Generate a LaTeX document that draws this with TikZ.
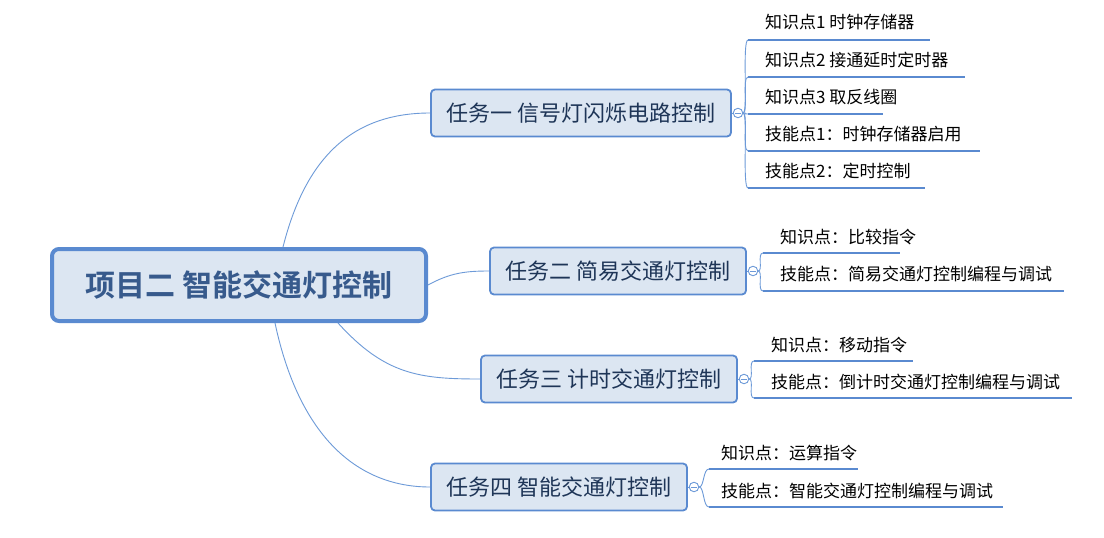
\documentclass[tikz,border=0pt]{standalone}
\usepackage{fontspec}
\setmainfont{Noto Sans CJK SC}
\newfontfamily\cjkbold{Noto Sans CJK SC Bold}
\definecolor{bordc}{HTML}{5A8AD0}
\definecolor{fillc}{HTML}{DCE6F2}
\definecolor{roottxt}{HTML}{375A8C}
\definecolor{tasktxt}{HTML}{1E3557}
\definecolor{linec}{HTML}{6D9AD8}
\begin{document}
\begin{tikzpicture}[x=1pt,y=-1pt,
  rootbox/.style={draw=bordc,line width=4pt,fill=fillc,rounded corners=7pt,minimum width=374pt,minimum height=72pt,inner sep=0pt,font=\cjkbold\fontsize{30}{34}\selectfont,text=roottxt},
  taskbox/.style={draw=bordc,line width=1.8pt,fill=fillc,rounded corners=4pt,minimum height=47pt,inner sep=0pt,font=\fontsize{22}{26}\selectfont,text=tasktxt},
  leaf/.style={anchor=west,inner sep=0pt,font=\fontsize{17}{20}\selectfont,text=black},
  uline/.style={draw=bordc,line width=2.8pt},
  conn/.style={draw=linec,line width=0.9pt},
  circ/.style={circle,draw=linec,line width=0.9pt,fill=white,minimum size=9.5pt,inner sep=0pt}
]
\useasboundingbox (0,0) rectangle (1104,538);
\fill[white] (0,0) rectangle (1104,538);

% root
\node[rootbox] (root) at (239,285) {项目二 智能交通灯控制};
\coordinate (rtop) at (283,247);
\coordinate (rbot3) at (338,323);
\coordinate (rbot4) at (275,323);

% tasks
\node[taskbox,minimum width=300pt] (t1) at (581,113) {任务一 信号灯闪烁电路控制};
\node[taskbox,minimum width=256pt] (t2) at (618,271) {任务二 简易交通灯控制};
\node[taskbox,minimum width=256pt] (t3) at (609,379) {任务三 计时交通灯控制};
\node[taskbox,minimum width=256pt] (t4) at (559,487) {任务四 智能交通灯控制};

% root connectors
\draw[conn] (rtop) .. controls (305,160) and (350,113) .. (t1.west);
\draw[conn] (root.east) .. controls (450,273) and (465,271) .. (t2.west);
\draw[conn] (rbot3) .. controls (385,375) and (420,379) .. (t3.west);
\draw[conn] (rbot4) .. controls (300,440) and (360,487) .. (t4.west);

% circles
\node[circ] (c1) at (738,113) {};
\node[circ] (c2) at (753,271) {};
\node[circ] (c3) at (744,379) {};
\node[circ] (c4) at (694,487) {};
\foreach \c/\t in {c1/t1,c2/t2,c3/t3,c4/t4}{
  \draw[conn] (\t.east) -- (\c.west);
  \draw[draw=linec,line width=0.9pt] ([xshift=2pt]\c.west) -- ([xshift=-2pt]\c.east);
}

% task 1 leaves
\coordinate (a1s) at (748,40);  \coordinate (a1e) at (930,40);
\coordinate (a2s) at (748,77);  \coordinate (a2e) at (965,77);
\coordinate (a3s) at (748,114); \coordinate (a3e) at (883,114);
\coordinate (a4s) at (748,151); \coordinate (a4e) at (980,151);
\coordinate (a5s) at (748,188); \coordinate (a5e) at (925,188);
\node[leaf] (l11) at (765,22) {知识点1 时钟存储器};
\node[leaf] (l12) at (765,60) {知识点2 接通延时定时器};
\node[leaf] (l13) at (765,97) {知识点3 取反线圈};
\node[leaf] (l14) at (765,134) {技能点1：时钟存储器启用};
\node[leaf] (l15) at (765,171) {技能点2：定时控制};
\foreach \s/\e in {a1s/a1e,a2s/a2e,a3s/a3e,a4s/a4e,a5s/a5e}{
  \draw[uline] (\s) -- (\e);
  \draw[conn] (c1.east) .. controls +(5,0) and +(-6,0) .. (\s);
}

% task 2 leaves
\coordinate (b1s) at (763,253); \coordinate (b1e) at (900,253);
\coordinate (b2s) at (763,291); \coordinate (b2e) at (1064,291);
\node[leaf] (l21) at (780,237) {知识点：比较指令};
\node[leaf] (l22) at (780,274) {技能点：简易交通灯控制编程与调试};

% task 3 leaves
\coordinate (d1s) at (754,361); \coordinate (d1e) at (913,361);
\coordinate (d2s) at (754,398); \coordinate (d2e) at (1072,398);
\node[leaf] (l31) at (771,345) {知识点：移动指令};
\node[leaf] (l32) at (771,382) {技能点：倒计时交通灯控制编程与调试};

% task 4 leaves
\coordinate (e1s) at (709,469); \coordinate (e1e) at (858,469);
\coordinate (e2s) at (709,507); \coordinate (e2e) at (1003,507);
\node[leaf] (l41) at (721,453) {知识点：运算指令};
\node[leaf] (l42) at (721,491) {技能点：智能交通灯控制编程与调试};

\foreach \c/\s/\e in {c2/b1s/b1e,c2/b2s/b2e,c3/d1s/d1e,c3/d2s/d2e,c4/e1s/e1e,c4/e2s/e2e}{
  \draw[uline] (\s) -- (\e);
  \draw[conn] (\c.east) .. controls +(5,0) and +(-6,0) .. (\s);
}
\end{tikzpicture}
\end{document}
